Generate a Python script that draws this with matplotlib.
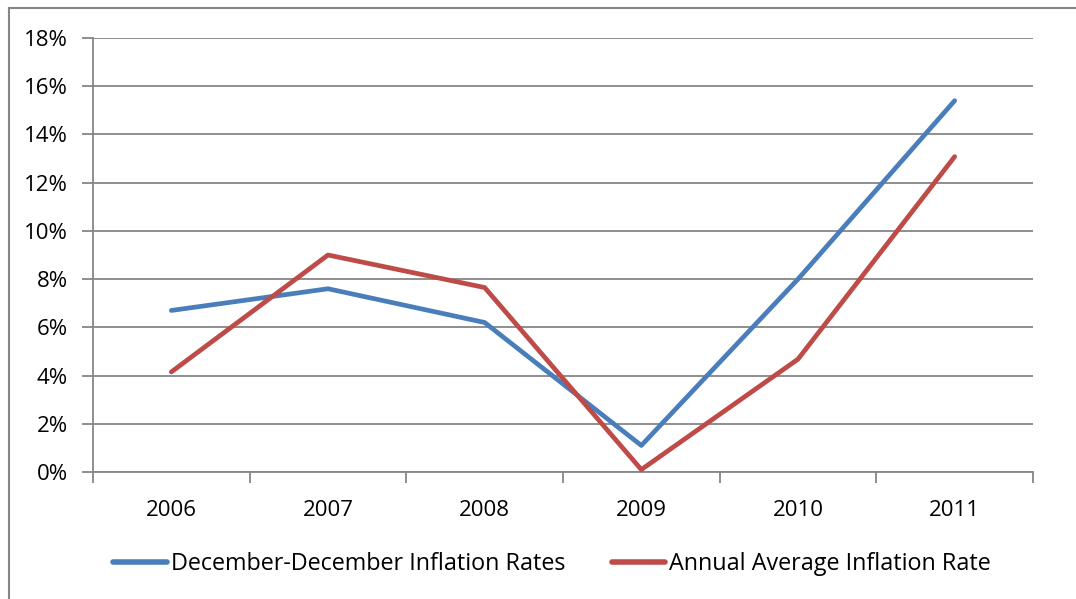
import matplotlib.pyplot as plt
from matplotlib.lines import Line2D
from matplotlib.ticker import FixedLocator, PercentFormatter

years = ["2006", "2007", "2008", "2009", "2010", "2011"]
dec_dec = [6.7, 7.6, 6.2, 1.1, 8.0, 15.4]
annual_avg = [4.15, 9.0, 7.65, 0.1, 4.68, 13.08]

series_names = ["December-December Inflation Rates", "Annual Average Inflation Rate"]
BLUE = "#4A7EBB"
RED = "#BE4B48"
GRID = "#868686"

plt.rcParams["font.family"] = ["Open Sans", "DejaVu Sans"]

W, H = 1076, 599
fig = plt.figure(figsize=(W / 100, H / 100), dpi=100)
ax = fig.add_axes([93 / W, 1 - 472 / H, (1033 - 93) / W, (472 - 38) / H])

x = list(range(len(years)))
ax.plot(x, dec_dec, color=BLUE, lw=3.4, solid_capstyle="round", solid_joinstyle="round", zorder=3)
ax.plot(x, annual_avg, color=RED, lw=3.4, solid_capstyle="round", solid_joinstyle="round", zorder=3)

ax.set_xlim(-0.5, len(years) - 0.5)
ax.set_ylim(0, 18)
ax.set_yticks(range(0, 19, 2))
ax.yaxis.set_major_formatter(PercentFormatter(decimals=0))
ax.grid(axis="y", color=GRID, lw=1.3)
ax.set_axisbelow(True)

# category boundaries as major ticks, labels on minor ticks
ax.xaxis.set_major_locator(FixedLocator([i - 0.5 for i in range(len(years) + 1)]))
ax.xaxis.set_minor_locator(FixedLocator(x))
ax.set_xticklabels([""] * (len(years) + 1))
ax.set_xticklabels(years, minor=True)
ax.tick_params(axis="x", which="major", length=8, color=GRID, width=1.3, direction="out")
ax.tick_params(axis="x", which="minor", length=0, pad=20, labelsize=16)
ax.tick_params(axis="y", length=8, color=GRID, width=1.3, labelsize=16, pad=10)

for s in ["top", "right"]:
    ax.spines[s].set_visible(False)
ax.spines["left"].set_color(GRID)
ax.spines["bottom"].set_color(GRID)
ax.spines["left"].set_linewidth(1.3)
ax.spines["bottom"].set_linewidth(1.3)

handles = [Line2D([], [], color=BLUE, lw=4, solid_capstyle="round"),
           Line2D([], [], color=RED, lw=4, solid_capstyle="round")]
fig.legend(handles, series_names, loc="center", bbox_to_anchor=(552 / W, 1 - 564 / H),
           ncol=2, frameon=False, fontsize=16.8, handlelength=2.3, handletextpad=0.15,
           columnspacing=2.0)

# outer chart border
fig.add_artist(Line2D([9 / W, 1], [1 - 8 / H, 1 - 8 / H], color=GRID, lw=1.5))
fig.add_artist(Line2D([9 / W, 9 / W], [0, 1 - 8 / H], color=GRID, lw=1.5))

fig.savefig("out.png", dpi=100)
